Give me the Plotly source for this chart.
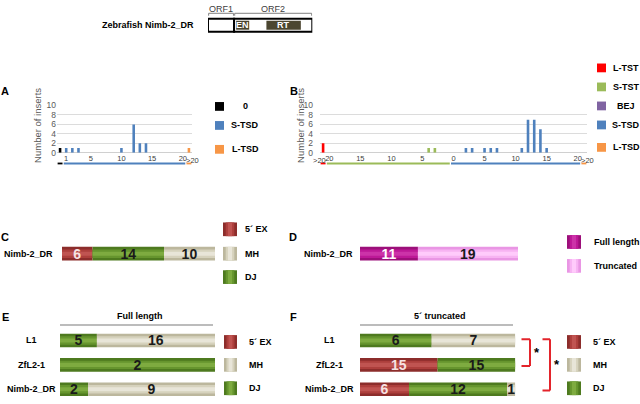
import plotly.graph_objects as go

W, H = 640, 404
def px(x): return x / W
def py(y): return 1 - y / H

FONT = "Liberation Sans"
TXT = "#404040"

# ---------------- data ----------------
element_label = "Zebrafish Nimb-2_DR"
orf_names = ["ORF1", "ORF2"]
orf_start = [0, 25]
orf_end = [25, 100]
domain_names = ["EN", "RT"]
domain_start = [27, 56]
domain_end = [39.5, 89]

# Panel A : junction length distribution
A_categories = ["0"] + [str(i) for i in range(1, 21)] + [">20"]
A_tickvals = ["1", "5", "10", "15", "20"]
A_zero_x = ["0"];  A_zero_y = [1]
A_stsd_x = ["1", "2", "3", "10", "12", "13", "14"]
A_stsd_y = [1, 1, 1, 1, 6, 2, 2]
A_ltsd_x = [">20"]; A_ltsd_y = [1]
A_legend = ["0", "S-TSD", "L-TSD"]

# Panel B
B_categories = (["L>20"] + [f"T{i}" for i in range(20, 0, -1)]
                + [f"D{i}" for i in range(0, 21)] + ["D>20"])
B_tickvals = ["T20", "T15", "T10", "T5", "D0", "D5", "D10", "D15", "D20"]
B_ticktext = ["20", "15", "10", "5", "0", "5", "10", "15", "20"]
B_ltst_x = ["L>20"]; B_ltst_y = [2]
B_stst_x = ["T4", "T3"]; B_stst_y = [1, 1]
B_stsd_x = ["D2", "D3", "D5", "D6", "D7", "D11", "D12", "D13", "D14", "D15"]
B_stsd_y = [1, 1, 1, 1, 1, 1, 7, 7, 5, 1]
B_legend = ["L-TST", "S-TST", "BEJ", "S-TSD", "L-TSD"]

# Panel C
C_rows = ["Nimb-2_DR"]
C_5ex = [6]; C_dj = [14]; C_mh = [10]
# Panel D
D_rows = ["Nimb-2_DR"]
D_full = [11]; D_trunc = [19]
# Panel E (full length)
EF_rows = ["L1", "ZfL2-1", "Nimb-2_DR"]
E_5ex = [0, 0, 0]; E_dj = [5, 2, 2]; E_mh = [16, 0, 9]
# Panel F (5' truncated)
F_5ex = [0, 15, 6]; F_dj = [6, 15, 12]; F_mh = [7, 0, 1]

# ---------------- styles ----------------
col = {"0": "#000000", "S-TSD": "#4f81bd", "L-TSD": "#f79646",
       "L-TST": "#ff0000", "S-TST": "#9bbb59", "BEJ": "#8064a2"}
pal = {
    "5´ EX": ["#8c2d2b", "#ad3f3c", "#c05451"],
    "MH": ["#bcb79d", "#d6d2bd", "#e8e5d8"],
    "DJ": ["#4e7a1f", "#66952e", "#7eab40"],
    "Full length": ["#9c0f7a", "#bd1897", "#cc33a8"],
    "Truncated": ["#e996e4", "#f7b3f2", "#ffcbfb"],
}
txtcol = {"5´ EX": "#f6e2e2", "MH": "#1a1a1a", "DJ": "#1a1a1a",
          "Full length": "#ffffff", "Truncated": "#1a1a1a"}

fig = go.Figure()

# ---------------- vertical bar panels ----------------
def vbars(xs, ys, c, xa, ya):
    fig.add_trace(go.Bar(x=xs, y=ys, marker=dict(color=c, line=dict(width=0)),
                         width=0.42, xaxis=xa, yaxis=ya, hoverinfo="skip",
                         showlegend=False))

vbars(A_zero_x, A_zero_y, col["0"], "x", "y")
vbars(A_stsd_x, A_stsd_y, col["S-TSD"], "x", "y")
vbars(A_ltsd_x, A_ltsd_y, col["L-TSD"], "x", "y")
vbars(B_ltst_x, B_ltst_y, col["L-TST"], "x2", "y2")
vbars(B_stst_x, B_stst_y, col["S-TST"], "x2", "y2")
vbars(B_stsd_x, B_stsd_y, col["S-TSD"], "x2", "y2")

# ---------------- horizontal stacked bars ----------------
LAYERS = [1.0, 0.62, 0.3]

def hbars(xa, ya, rows, segs, thickness, norm):
    totals = [sum(s[1][i] for s in segs) for i in range(len(rows))]
    cum = [0.0] * len(rows)
    for name, vals in segs:
        xs = [100.0 * v / t for v, t in zip(vals, totals)] if norm else list(vals)
        for li, frac in enumerate(LAYERS):
            last = li == len(LAYERS) - 1
            fig.add_trace(go.Bar(
                orientation="h", y=rows, x=xs, base=cum[:],
                width=thickness * frac,
                marker=dict(color=pal[name][li], line=dict(width=0)),
                text=[f"<b>{v}</b>" if v > 0 else "" for v in vals] if last else None,
                textposition="inside" if last else "none",
                insidetextanchor="middle", constraintext="none", textangle=0,
                textfont=dict(family=FONT, size=14, color=txtcol[name]),
                xaxis=xa, yaxis=ya, hoverinfo="skip", showlegend=False))
        cum = [c + x for c, x in zip(cum, xs)]
    return totals

hbars("x3", "y3", C_rows, [("5´ EX", C_5ex), ("DJ", C_dj), ("MH", C_mh)], 0.5, False)
hbars("x4", "y4", D_rows, [("Full length", D_full), ("Truncated", D_trunc)], 0.5, False)
hbars("x5", "y5", EF_rows, [("5´ EX", E_5ex), ("DJ", E_dj), ("MH", E_mh)], 0.56, True)
hbars("x6", "y6", EF_rows, [("5´ EX", F_5ex), ("DJ", F_dj), ("MH", F_mh)], 0.56, True)

C_total = sum(C_5ex) + sum(C_dj) + sum(C_mh)
D_total = sum(D_full) + sum(D_trunc)

shapes = []
ann = []

def text(x, y, s, size=9, bold=True, color="#000000", xanchor="center", angle=0,
         xref="paper", yref="paper", yanchor="middle", xshift=0, yshift=0, pad=1):
    ann.append(dict(x=x, y=y, xref=xref, yref=yref, text=f"<b>{s}</b>" if bold else s,
                    showarrow=False, xanchor=xanchor, yanchor=yanchor, textangle=angle,
                    xshift=xshift, yshift=yshift, borderpad=pad,
                    font=dict(family=FONT, size=size, color=color)))

def rect(x0, y0, x1, y1, fill, line=None, lw=0, xref="paper", yref="paper"):
    shapes.append(dict(type="rect", x0=x0, y0=y0, x1=x1, y1=y1, xref=xref, yref=yref,
                       fillcolor=fill, line=dict(width=lw, color=line or fill)))

def line(x0, y0, x1, y1, c, w, xref="paper", yref="paper"):
    shapes.append(dict(type="line", x0=x0, y0=y0, x1=x1, y1=y1, xref=xref, yref=yref,
                       line=dict(color=c, width=w)))

# ---------------- schematic ----------------
text(px(196), py(20), element_label, size=9, xanchor="right")
for n, s, e in zip(orf_names, orf_start, orf_end):
    rect(s, 0, e, 1, "#ffffff", "#000000", 2, xref="x7", yref="y7 domain")
    line(s + 0.6, py(8.5), e - 0.6, py(8.5), "#808080", 1, xref="x7")
    line(s + 0.6, py(8.5), s + 0.6, py(11), "#808080", 1, xref="x7")
    line(e - 0.6, py(8.5), e - 0.6, py(11), "#808080", 1, xref="x7")
    text((s + e) / 2, py(4), n, size=9, bold=False, color="#404040", xref="x7")
for n, s, e in zip(domain_names, domain_start, domain_end):
    rect(s, 0.16, e, 0.84, "#4b4630", xref="x7", yref="y7 domain")
    text((s + e) / 2, 0.5, n, size=9, color="#ffffff", xref="x7", yref="y7 domain")

# ---------------- panel letters ----------------
for L, x, y in [("A", 5, 88), ("B", 294, 88), ("C", 5, 238), ("D", 293, 238),
                ("E", 5, 320), ("F", 293, 320)]:
    text(px(x), py(y), L, size=11)

# y-axis titles
text(px(38), py(124), "Number of inserts", size=9.5, bold=False, color="#595959", angle=-90)
text(px(301), py(124), "Number of inserts", size=9.5, bold=False, color="#595959", angle=-90)

# ">20" category labels, placed beside the neighbouring "20" tick labels
TICKSIZE = 7.5
text(A_categories.index(">20") - 0.5, 0, ">20", size=TICKSIZE, bold=False, color=TXT,
     xref="x", yref="y", xanchor="left", yanchor="top", xshift=-1, yshift=-2, pad=0)
text(B_categories.index("D>20") - 0.5, 0, ">20", size=TICKSIZE, bold=False, color=TXT,
     xref="x2", yref="y2", xanchor="left", yanchor="top", xshift=-1, yshift=-2, pad=0)
text(B_categories.index("T20") - 0.5, 0, ">20", size=TICKSIZE, bold=False, color=TXT,
     xref="x2", yref="y2", xanchor="right", yanchor="top", xshift=1, yshift=-2, pad=0)

# category underlines
UL = py(162.5)
def underline(xa, cats, a, b, c):
    i0, i1 = cats.index(a), cats.index(b)
    line(i0 - 0.4, UL, i1 + 0.4, UL, c, 1.8, xref=xa)

underline("x", A_categories, "0", "0", col["0"])
underline("x", A_categories, "1", "20", col["S-TSD"])
underline("x", A_categories, ">20", ">20", col["L-TSD"])
underline("x2", B_categories, "L>20", "L>20", col["L-TST"])
underline("x2", B_categories, "T20", "T1", col["S-TST"])
underline("x2", B_categories, "D0", "D20", col["S-TSD"])
underline("x2", B_categories, "D>20", "D>20", col["L-TSD"])

# small legends A / B
for n, y in zip(A_legend, [104, 123.5, 148]):
    rect(px(215), py(y - 4.5), px(224), py(y + 4.5), col[n])
    text(px(245), py(y), n, size=9)
for n, y in zip(B_legend, [64.5, 84, 103.5, 123, 146]):
    rect(px(597), py(y - 4.5), px(606), py(y + 4.5), col[n])
    text(px(626), py(y), n, size=9)

# gradient legends
def glegend(x0, x1, x_text, items, ys, h=14):
    for n, y in zip(items, ys):
        w = x1 - x0
        for frac, c in zip(LAYERS, pal[n]):
            m = (1 - frac) * w / 2
            rect(px(x0 + m), py(y - h / 2), px(x1 - m), py(y + h / 2), c)
        text(px(x_text), py(y), n, size=9, xanchor="left")

glegend(223, 237, 243, ["5´ EX", "MH", "DJ"], [230, 255, 279])
glegend(567, 581, 592, ["Full length", "Truncated"], [243, 267.5])
glegend(224, 237, 247, ["5´ EX", "MH", "DJ"], [345.5, 369, 393])
glegend(567, 581, 591, ["5´ EX", "MH", "DJ"], [345.5, 369, 393])

# row labels
text(px(55), py(255), C_rows[0], size=9, xanchor="right")
text(px(355), py(255), D_rows[0], size=9, xanchor="right")
for i, r in enumerate(EF_rows):
    idx = len(EF_rows) - 1 - i
    text(px(31), idx, r, size=9, yref="y5")
    text(px(329), idx, r, size=9, yref="y6")

# E / F titles
text(px(140), py(318.5), "Full length", size=9)
line(px(60), py(328), px(213), py(328), "#a6a6a6", 1.5)
text(px(440), py(318.5), "5´ truncated", size=9)
line(px(360), py(328), px(513), py(328), "#a6a6a6", 1.5)

# significance brackets
RED = "#e3242b"
def bracket(xl, xr, r_top, r_bot, star_x):
    it = len(EF_rows) - 1 - EF_rows.index(r_top)
    ib = len(EF_rows) - 1 - EF_rows.index(r_bot)
    line(px(xl), it + 0.05, px(xr), it + 0.05, RED, 2, yref="y6")
    line(px(xr), it + 0.05, px(xr), ib - 0.05, RED, 2, yref="y6")
    line(px(xl), ib - 0.05, px(xr), ib - 0.05, RED, 2, yref="y6")
    text(px(star_x), (it + ib) / 2, "*", size=13, yref="y6")

bracket(521.5, 530, "L1", "ZfL2-1", 537)
bracket(542.5, 550, "L1", "Nimb-2_DR", 557)

# ---------------- axes ----------------
def vx(dom, cats, tv, tt):
    return dict(domain=dom, type="category", categoryorder="array", categoryarray=cats,
                range=[-0.5, len(cats) - 0.5], tickvals=tv, ticktext=tt, ticks="",
                tickangle=0, showgrid=False, zeroline=False, showline=False,
                fixedrange=True, tickfont=dict(family=FONT, size=TICKSIZE, color=TXT))

def vy(dom, xa, standoff):
    return dict(domain=dom, range=[0, 10.05], dtick=2, ticks="", showline=False,
                gridcolor="#dcdcdc", gridwidth=1, zeroline=True, zerolinecolor="#d0d0d0",
                zerolinewidth=1, tickfont=dict(family=FONT, size=8.5, color="#595959"),
                ticklabelstandoff=standoff, anchor=xa, fixedrange=True)

hidden = dict(visible=False, showgrid=False, zeroline=False, fixedrange=True)

fig.update_layout(
    width=W, height=H, autosize=False,
    margin=dict(l=0, r=0, t=0, b=0),
    paper_bgcolor="#ffffff", plot_bgcolor="rgba(0,0,0,0)",
    barmode="overlay", showlegend=False,
    font=dict(family=FONT),
    xaxis=vx([px(57), px(192)], A_categories, A_tickvals, A_tickvals) | dict(anchor="y"),
    yaxis=vy([py(151.5), py(102.8)], "x", 0),
    xaxis2=vx([px(320), px(587)], B_categories, B_tickvals, B_ticktext) | dict(anchor="y2"),
    yaxis2=vy([py(151.5), py(102.8)], "x2", 6),
    xaxis3=hidden | dict(domain=[px(62), px(215)], range=[0, C_total], anchor="y3"),
    yaxis3=hidden | dict(domain=[py(269), py(241)], range=[-0.5, 0.5], type="category",
                         categoryarray=C_rows, anchor="x3"),
    xaxis4=hidden | dict(domain=[px(360), px(518)], range=[0, D_total], anchor="y4"),
    yaxis4=hidden | dict(domain=[py(269), py(241)], range=[-0.5, 0.5], type="category",
                         categoryarray=D_rows, anchor="x4"),
    xaxis5=hidden | dict(domain=[px(60), px(215)], range=[0, 100], anchor="y5"),
    yaxis5=hidden | dict(domain=[0, py(331.5)], range=[-0.4, 2.5], type="category",
                         categoryorder="array", categoryarray=EF_rows[::-1], anchor="x5"),
    xaxis6=hidden | dict(domain=[px(360), px(515.3)], range=[0, 100], anchor="y6"),
    yaxis6=hidden | dict(domain=[0, py(331.5)], range=[-0.4, 2.5], type="category",
                         categoryorder="array", categoryarray=EF_rows[::-1], anchor="x6"),
    xaxis7=hidden | dict(domain=[px(208), px(312.3)], range=[0, 100], anchor="y7"),
    yaxis7=hidden | dict(domain=[py(27.5), py(14)], range=[0, 1], anchor="x7"),
    shapes=shapes, annotations=ann,
)

fig.write_html("out.html", config={"displayModeBar": False, "staticPlot": True},
               post_script="document.body.style.margin='0px';document.body.style.overflow='hidden';")
